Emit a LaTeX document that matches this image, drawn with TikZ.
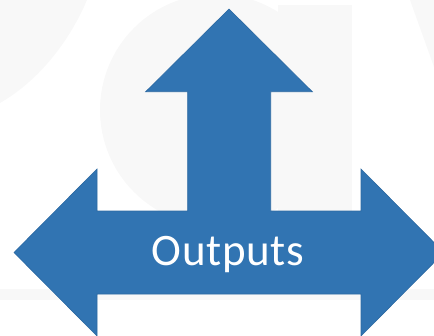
\documentclass[tikz,border=0pt]{standalone}
\usepackage{fontspec}
\setmainfont{Carlito}
\definecolor{arrowblue}{RGB}{49,116,178}
\definecolor{arrowedge}{RGB}{44,105,162}
\definecolor{wm}{RGB}{248,248,248}
\begin{document}
\begin{tikzpicture}[x=1pt,y=-1pt,
  watermark/.style={fill=wm,draw=none},
  bigarrow/.style={fill=arrowblue,draw=arrowedge,line width=0.6pt,line join=miter},
  label/.style={text=white,font=\fontsize{45}{54}\selectfont\addfontfeatures{LetterSpace=1.5},inner sep=0pt,anchor=base}]
\useasboundingbox (0,0) rectangle (434,335);
\begin{scope}
\clip (0,0) rectangle (434,335);
% faint watermark
\fill[wm] (0,0) -- (87,0) .. controls (70,40) and (40,80) .. (0,103) -- cycle;
\fill[wm] (216,110) circle (116);
\fill[wm] (278,5) rectangle (352,300);
\fill[wm] (410,0) -- (434,0) -- (434,67) -- cycle;
\fill[wm] (0,289) rectangle (434,300);
% arrow
\draw[bigarrow] (229,9) -- (312.3,91.7) -- (270.7,91.7) -- (270.7,211) -- (361,211) -- (361,169)
  -- (444,252.5) -- (361,336) -- (361,294) -- (97,294) -- (97,336) -- (14,252.5) -- (97,169)
  -- (97,211) -- (187.7,211) -- (187.7,91.7) -- (145.7,91.7) -- cycle;
\end{scope}
\node[label] (txt) at (228,265.5) {Outputs};
\end{tikzpicture}
\end{document}
